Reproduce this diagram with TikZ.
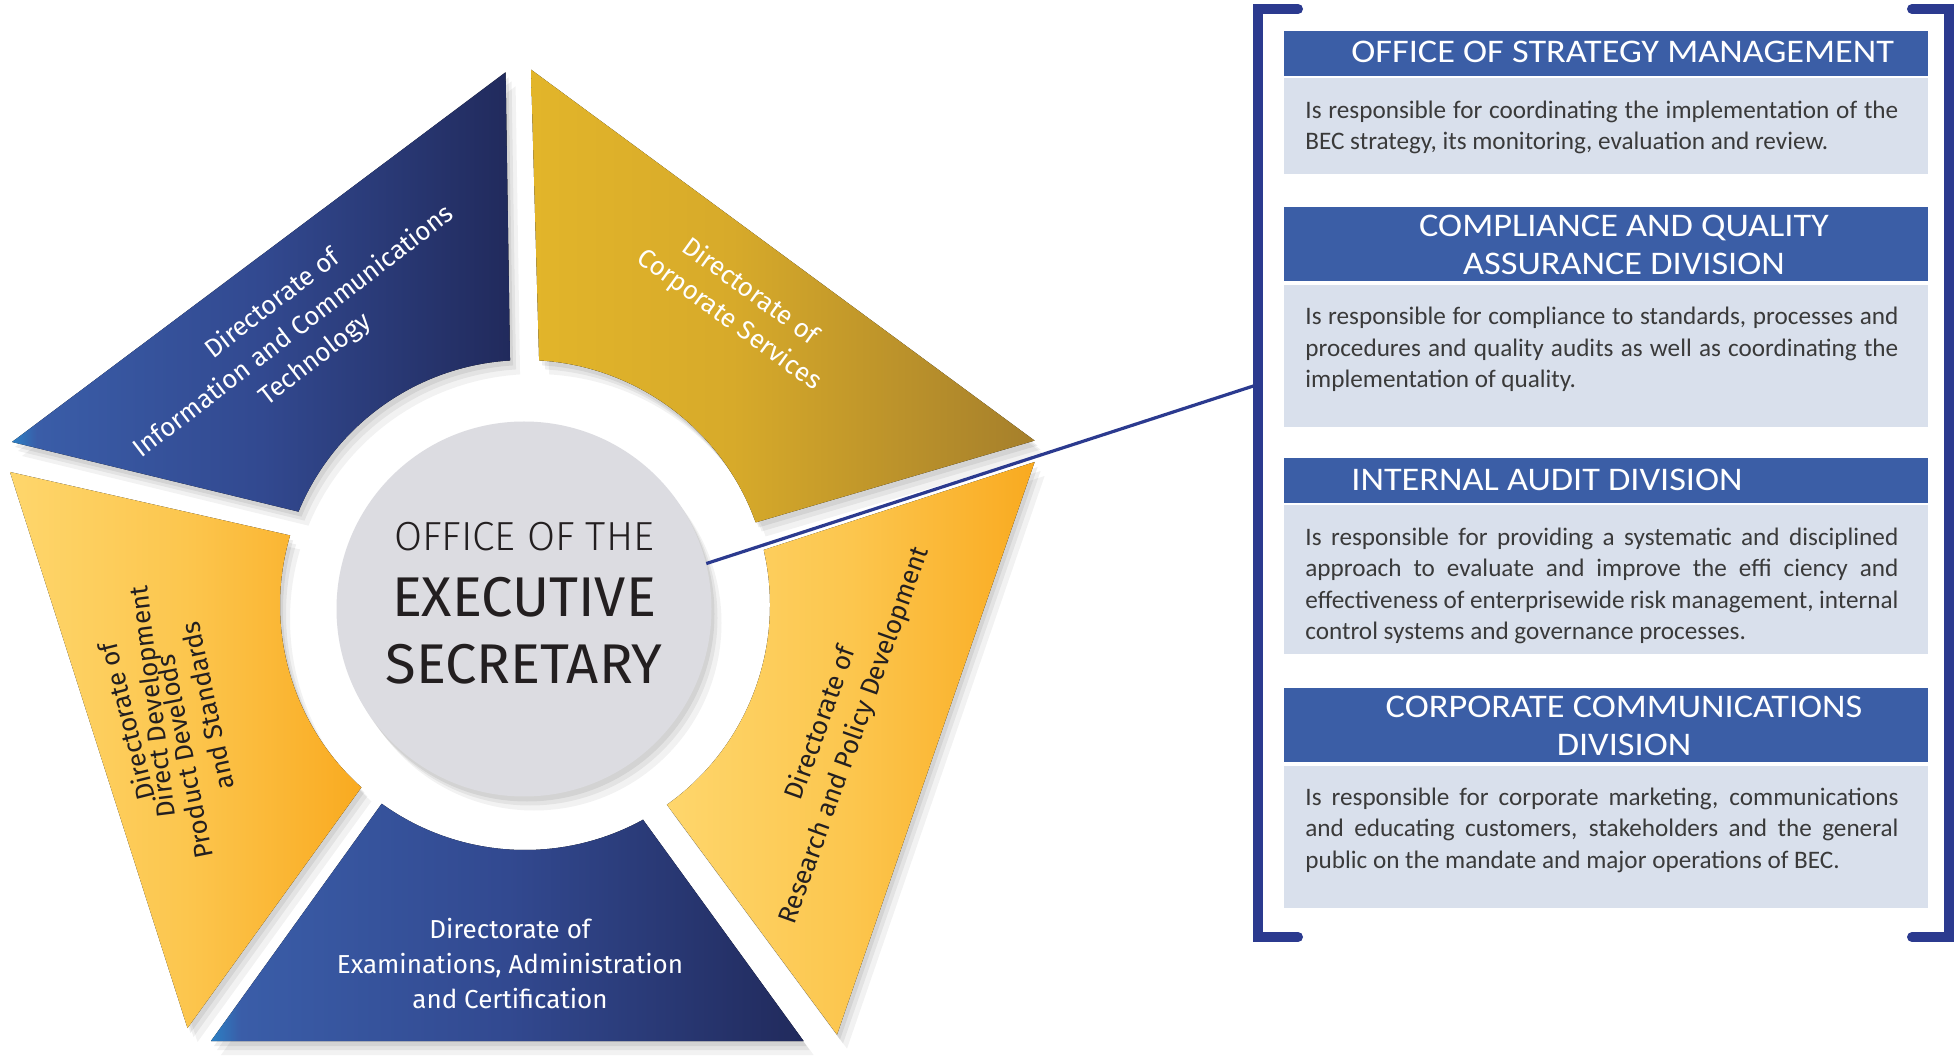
\documentclass[tikz,border=0pt]{standalone}
\usepackage{fontspec}
\setmainfont{Carlito}
\newfontfamily\hfont{Carlito}[FakeStretch=1.1]
\newfontfamily\wfont{Fira Sans}
\newfontfamily\clight{Fira Sans Light}
\newfontfamily\creg{Fira Sans}
\definecolor{hdrblue}{HTML}{3B5EA6}
\definecolor{bodybg}{HTML}{D9E0EC}
\definecolor{brkblue}{HTML}{2B3A8F}
\definecolor{txtgrey}{HTML}{3A3A3A}
\definecolor{ctxt}{HTML}{231F20}
\definecolor{cgrey}{HTML}{DCDCE1}
\definecolor{tipblue}{HTML}{2C80C4}
\definecolor{blA}{HTML}{3A5DA8}
\definecolor{blB}{HTML}{324990}
\definecolor{blC}{HTML}{212A5C}
\definecolor{gdA}{HTML}{E2B52A}
\definecolor{gdB}{HTML}{D7AA2A}
\definecolor{gdC}{HTML}{A57F2B}
\definecolor{ylA}{HTML}{FED66C}
\definecolor{ylB}{HTML}{FCC64E}
\definecolor{ylC}{HTML}{F9AA20}
\pgfdeclarehorizontalshading{shBlue}{100bp}{color(0bp)=(tipblue); color(25bp)=(tipblue); color(27.5bp)=(blA); color(50bp)=(blB); color(75bp)=(blC); color(100bp)=(blC)}
\pgfdeclarehorizontalshading{shGold}{100bp}{color(0bp)=(gdA); color(25bp)=(gdA); color(45bp)=(gdB); color(75bp)=(gdC); color(100bp)=(gdC)}
\pgfdeclarehorizontalshading{shYell}{100bp}{color(0bp)=(ylA); color(25bp)=(ylA); color(50bp)=(ylB); color(75bp)=(ylC); color(100bp)=(ylC)}
\newcommand\WedgeTL[1]{\fill[#1] (12,442) -- (505.6,72.3) -- (510.04,360.46) arc[start angle=-93.5, end angle=-157.6, radius=245] -- cycle;}
\newcommand\WedgeTR[1]{\fill[#1] (531,69.6) -- (1034.6,440.6) -- (755.66,522.41) arc[start angle=-19.7, end angle=-86.7, radius=245] -- cycle;}
\newcommand\WedgeL[1]{\fill[#1] (10,472) -- (187.5,1028) -- (361.38,787.36) arc[start angle=131.9, end angle=196.5, radius=245] -- cycle;}
\newcommand\WedgeB[1]{\fill[#1] (211,1041) -- (803.6,1041) -- (643.03,819.70) arc[start angle=61.2, end angle=125.8, radius=245] -- cycle;}
\newcommand\WedgeR[1]{\fill[#1] (1034.6,462) -- (837,1034.6) -- (666.92,804.71) arc[start angle=54.6, end angle=-13.0, radius=245] -- cycle;}
\tikzset{
  x=0.5pt, y=-0.5pt,
  wtxt/.style={align=center, inner sep=0pt, font=\wfont\fontsize{13}{17.5}\selectfont},
  htxt/.style={text=white, inner sep=0pt, font=\hfont\fontsize{16.5}{19}\selectfont},
  btxt/.style={text=txtgrey, inner sep=0pt, anchor=north west, text width=296.5pt, align=justify,
     font=\fontsize{12.6}{15.75}\selectfont,
     execute at begin node={\hyphenpenalty=10000\relax\tolerance=10000\relax}},
  conn/.style={draw=brkblue, line width=1.6pt},
  brk/.style={draw=brkblue, line width=5pt, line cap=round, line join=miter},
}
\begin{document}
\begin{tikzpicture}
\useasboundingbox (0,0) rectangle (1955,1058);
\fill[white] (0,0) rectangle (1955,1058);
% shadows
\foreach \dx/\dy/\op in {3/5/0.07, 6/9/0.06, 10/14/0.05}{
  \WedgeTL{black, opacity=\op, shift={(\dx,\dy)}}
  \WedgeTR{black, opacity=\op, shift={(\dx,\dy)}}
  \WedgeL{black, opacity=\op, shift={(\dx,\dy)}}
  \WedgeB{black, opacity=\op, shift={(\dx,\dy)}}
  \WedgeR{black, opacity=\op, shift={(\dx,\dy)}}
  \fill[black, opacity=\op] (524+\dx,609+\dy) circle (93.75pt);
}
% wedges
\WedgeTL{shading=shBlue}
\WedgeTR{shading=shGold}
\WedgeL{shading=shYell}
\WedgeB{shading=shBlue}
\WedgeR{shading=shYell}
% centre
\node[circle, fill=cgrey, minimum size=187.5pt, inner sep=0pt] (ces) at (524,609) {};
\node[anchor=base, inner sep=0pt, text=ctxt, font=\clight\fontsize{20.3}{24}\selectfont] (ces1) at (524,550.7) {OFFICE OF THE};
\node[anchor=base, inner sep=0pt, text=ctxt, font=\creg\fontsize{28}{32}\selectfont] (ces2) at (524,616.7) {EXECUTIVE};
\node[anchor=base, inner sep=0pt, text=ctxt, font=\creg\fontsize{28}{32}\selectfont] (ces3) at (524,683.3) {SECRETARY};
% wedge texts
\node[wtxt, text=white, rotate=37.6] (dict) at (294,332) {Directorate of\\Information and Communications\\Technology};
\node[wtxt, text=white, rotate=-36] (dcs) at (739.5,306) {Directorate of\\Corporate Services};
\node[wtxt, text=ctxt, rotate=104] (dpd1) at (126,722) {Directorate of};
\node[wtxt, text=ctxt, rotate=97] (dpd2) at (154,702) {Direct Development};
\node[wtxt, text=ctxt, rotate=101] (dpd3) at (184,757) {Product Develods};
\node[wtxt, text=ctxt, rotate=102] (dpd4) at (207,706) {and Standards};
\node[wtxt, text=white] (deac) at (510,964) {Directorate of\\Examinations, Administration\\and Certification};
\node[wtxt, text=ctxt, rotate=70.3, font=\wfont\fontsize{13}{17.8}\selectfont] (drpd) at (838,729.5) {Directorate of\\Research and Policy Development};
% connector
\coordinate (bk) at (1258,384.5);
\draw[conn] (ces.14.8) -- (bk);
% brackets
\draw[brk] (1298,9) -- (1258,9) -- (1258,937) -- (1298,937);
\draw[brk] (1912,9) -- (1949,9) -- (1949,937) -- (1912,937);
% boxes
\fill[hdrblue] (1284,31) rectangle (1928,76);
\fill[bodybg] (1284,78.4) rectangle (1928,174);
\fill[hdrblue] (1284,207) rectangle (1928,280.6);
\fill[bodybg] (1284,285) rectangle (1928,426.6);
\fill[hdrblue] (1284,458) rectangle (1928,503);
\fill[bodybg] (1284,505.4) rectangle (1928,653.6);
\fill[hdrblue] (1284,688.3) rectangle (1928,761.6);
\fill[bodybg] (1284,765.6) rectangle (1928,907.5);
\node[htxt, anchor=base west] (h1) at (1351,62.5) {OFFICE OF STRATEGY MANAGEMENT};
\node[htxt, anchor=base] (h2a) at (1624,236.6) {COMPLIANCE AND QUALITY};
\node[htxt, anchor=base] (h2b) at (1624,274.5) {ASSURANCE DIVISION};
\node[htxt, anchor=base west] (h3) at (1351,490.5) {INTERNAL AUDIT DIVISION};
\node[htxt, anchor=base] (h4a) at (1624,717.9) {CORPORATE COMMUNICATIONS};
\node[htxt, anchor=base] (h4b) at (1624,755.3) {DIVISION};
\node[btxt] (b1) at (1305,100.4) {Is responsible for coordinating the implementation of the\linebreak BEC strategy, its monitoring, evaluation and review.};
\node[btxt] (b2) at (1305,307) {Is responsible for compliance to standards, processes and\linebreak procedures and quality audits as well as coordinating the\linebreak implementation of quality.};
\node[btxt] (b3) at (1305,527.4) {Is responsible for providing a systematic and disciplined\linebreak approach to evaluate and improve the effi ciency and\linebreak effectiveness of enterprisewide risk management, internal\linebreak control systems and governance processes.};
\node[btxt] (b4) at (1305,787.6) {Is responsible for corporate marketing, communications\linebreak and educating customers, stakeholders and the general\linebreak public on the mandate and major operations of BEC.};
\end{tikzpicture}
\end{document}
